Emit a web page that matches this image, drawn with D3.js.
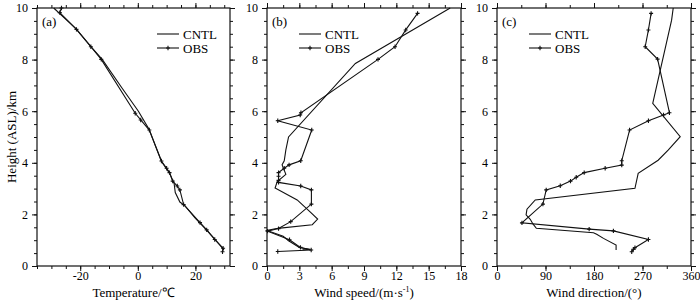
<!DOCTYPE html>
<html><head><meta charset="utf-8">
<script src="https://cdn.jsdelivr.net/npm/d3@7"></script>
<style>body{margin:0;background:#fff}svg{display:block}text{font-family:"Liberation Serif","Times New Roman",serif;fill:#000}</style>
</head><body><svg id="c" width="700" height="303"></svg>
<script>
// Heights (km) and values for each panel
const tempObsH = [10, 9.82, 9.17, 8.5, 8.01, 5.92, 5.66, 5.27, 4.07, 3.79, 3.62, 3.29, 3.1, 2.95, 2.38, 1.68, 1.4, 1.03, 0.69, 0.55];
const tempObs  = [-26.5, -27.1, -21.3, -16.3, -12.7, -0.9, 1.0, 4.0, 8.2, 10.0, 11.0, 12.1, 13.7, 14.6, 15.9, 21.6, 23.9, 26.7, 29.6, 29.4];
const tempCntlH = [10, 9.2, 8.5, 8.0, 6.9, 6.0, 5.3, 4.8, 4.05, 3.6, 3.2, 2.85, 2.48, 2.33, 1.85, 1.38, 1.0, 0.62];
const tempCntl  = [-29.2, -21.5, -16.3, -12.3, -5.5, 0.2, 3.9, 5.6, 8.2, 11.0, 12.6, 13.0, 14.6, 16.4, 20.0, 24.0, 27.0, 29.9];

const wsObsH = [9.79, 9.15, 8.5, 8.01, 5.94, 5.85, 5.63, 5.27, 4.08, 3.92, 3.79, 3.62, 3.48, 3.32, 3.24, 3.1, 2.95, 2.4, 1.72, 1.45, 1.35, 1.02, 0.72, 0.62, 0.56];
const wsObs  = [13.97, 12.87, 11.88, 10.3, 3.15, 3.08, 1.0, 4.15, 3.13, 2.05, 1.6, 1.07, 1.07, 1.07, 1.07, 3.13, 4.12, 4.12, 2.2, 1.07, 0.05, 2.09, 3.1, 4.1, 1.0];
const wsCntlH = [10, 7.85, 5.0, 4.5, 4.08, 3.92, 3.55, 3.27, 3.02, 2.56, 2.1, 1.82, 1.6, 1.46, 1.38, 1.15, 0.98, 0.72, 0.65, 0.63];
const wsCntl  = [17.0, 8.2, 2.0, 1.75, 1.6, 1.4, 1.75, 0.95, 0.75, 2.8, 4.0, 4.7, 4.2, 1.0, 0.0, 1.5, 2.0, 3.0, 4.0, 3.3];

const wdObsH = [9.79, 9.15, 8.5, 8.02, 5.94, 5.85, 5.63, 5.27, 4.08, 3.91, 3.79, 3.62, 3.44, 3.29, 3.11, 2.95, 2.4, 1.67, 1.43, 1.36, 1.03, 0.71, 0.65, 0.55];
const wdObs  = [286, 281, 275, 298, 320, 309, 281, 246, 231.5, 231.5, 200.7, 161.8, 147, 136.4, 117.4, 91.3, 85.2, 46.3, 171, 216, 281, 256, 253, 250];
const wdCntlH = [10, 9.53, 6.3, 5.01, 4.5, 4.1, 3.59, 3.01, 2.56, 2.2, 1.98, 1.81, 1.63, 1.46, 1.29, 1.23, 1.07, 0.81, 0.62];
const wdCntl  = [327, 324, 289, 340, 318, 299, 262, 256, 71, 55.6, 54, 61.7, 66.7, 73, 179, 185, 197.6, 221, 221];

const yMajor = [0, 2, 4, 6, 8, 10];
const panels = [
  {tag: "(a)", domain: [-35, 32], major: [-20, 0, 20], minorStep: 5, title: "Temperature/\u2103",
   obs: [tempObs, tempObsH], cntl: [tempCntl, tempCntlH], left: 37, right: 230, legX: 120},
  {tag: "(b)", domain: [0, 18], major: [0, 3, 6, 9, 12, 15, 18], minorStep: 1.5, title: "wind",
   obs: [wsObs, wsObsH], cntl: [wsCntl, wsCntlH], left: 267, right: 461, legX: 32},
  {tag: "(c)", domain: [0, 360], major: [0, 90, 180, 270, 360], minorStep: 45, title: "Wind direction/(\u00b0)",
   obs: [wdObs, wdObsH], cntl: [wdCntl, wdCntlH], left: 497, right: 691, legX: 32}
];

const svg = d3.select("#c");
const topY = 8, botY = 266;
const y = d3.scaleLinear().domain([0, 10]).range([botY, topY]);
const yMinor = d3.range(0, 10.01, 0.5);
const col = "#111";

panels.forEach(p => {
  const x = d3.scaleLinear().domain(p.domain).range([p.left, p.right]);
  const g = svg.append("g");
  const xMinor = d3.range(Math.ceil(p.domain[0] / p.minorStep) * p.minorStep, p.domain[1] + 1e-9, p.minorStep);
  const fmt = d => d3.format("d")(d).replace("\u2212", "-");
  const mk = (axis, tr, vals, size, labels) => {
    const a = axis.tickValues(vals).tickSize(size).tickSizeOuter(0);
    if (!labels) a.tickFormat("");
    else a.tickFormat(fmt);
    const ag = g.append("g").attr("transform", tr).call(a);
    ag.select(".domain").remove();
    ag.selectAll("line").attr("stroke", col);
    ag.selectAll("text").attr("font-size", 12).style("font-family", '"Liberation Serif",serif');
    return ag;
  };
  mk(d3.axisBottom(x), `translate(0,${botY})`, xMinor, 3, false);
  const bxM = mk(d3.axisBottom(x), `translate(0,${botY})`, p.major, 5, true);
  bxM.selectAll("text").attr("y", 5.5);
  mk(d3.axisTop(x), `translate(0,${topY})`, xMinor, 3, false);
  mk(d3.axisTop(x), `translate(0,${topY})`, p.major, 5, false);
  mk(d3.axisLeft(y), `translate(${p.left},0)`, yMinor, 3, false);
  const lyM = mk(d3.axisLeft(y), `translate(${p.left},0)`, yMajor, 5, true);
  lyM.selectAll("text").attr("x", -9);
  mk(d3.axisRight(y), `translate(${p.right},0)`, yMinor, 3, false);
  mk(d3.axisRight(y), `translate(${p.right},0)`, yMajor, 5, false);
  g.append("rect").attr("x", p.left).attr("y", topY).attr("width", p.right - p.left).attr("height", botY - topY)
    .attr("fill", "none").attr("stroke", col).attr("stroke-width", 1.2);

  const line = d3.line().x(d => x(d[0])).y(d => y(d[1]));
  const cntl = p.cntl[0].map((v, i) => [v, p.cntl[1][i]]);
  const obs = p.obs[0].map((v, i) => [v, p.obs[1][i]]);
  g.append("path").datum(cntl).attr("d", line).attr("fill", "none").attr("stroke", col).attr("stroke-width", 1.1);
  g.append("path").datum(obs).attr("d", line).attr("fill", "none").attr("stroke", col).attr("stroke-width", 1.1);
  const plus = (gx, cx, cy) => {
    gx.append("path").attr("d", `M${cx - 2},${cy}H${cx + 2}M${cx},${cy - 2.2}V${cy + 2.2}`).attr("stroke", col).attr("stroke-width", 1.1);
  };
  obs.forEach(d => plus(g, x(d[0]), y(d[1])));

  g.append("text").attr("x", p.left + 5).attr("y", topY + 18).attr("font-size", 13).text(p.tag);
  const lx = p.left + p.legX;
  g.append("line").attr("x1", lx).attr("x2", lx + 22).attr("y1", 34).attr("y2", 34).attr("stroke", col).attr("stroke-width", 1.1);
  g.append("text").attr("x", lx + 26).attr("y", 38.5).attr("font-size", 13).text("CNTL");
  g.append("line").attr("x1", lx).attr("x2", lx + 22).attr("y1", 48).attr("y2", 48).attr("stroke", col).attr("stroke-width", 1.1);
  plus(g, lx + 11, 48);
  g.append("text").attr("x", lx + 26).attr("y", 52.5).attr("font-size", 13).text("OBS");

  const t = g.append("text").attr("x", (p.left + p.right) / 2).attr("y", 297).attr("text-anchor", "middle").attr("font-size", 13);
  if (p.title === "wind") {
    t.append("tspan").text("Wind speed/(m\u00b7s");
    t.append("tspan").attr("font-size", 8).attr("dy", -5).text("-1");
    t.append("tspan").attr("dy", 5).text(")");
  } else t.text(p.title);
});

svg.append("text").attr("transform", `translate(16,${(topY + botY) / 2}) rotate(-90)`).attr("text-anchor", "middle")
  .attr("font-size", 13).text("Height (ASL)/km");
</script></body></html>
